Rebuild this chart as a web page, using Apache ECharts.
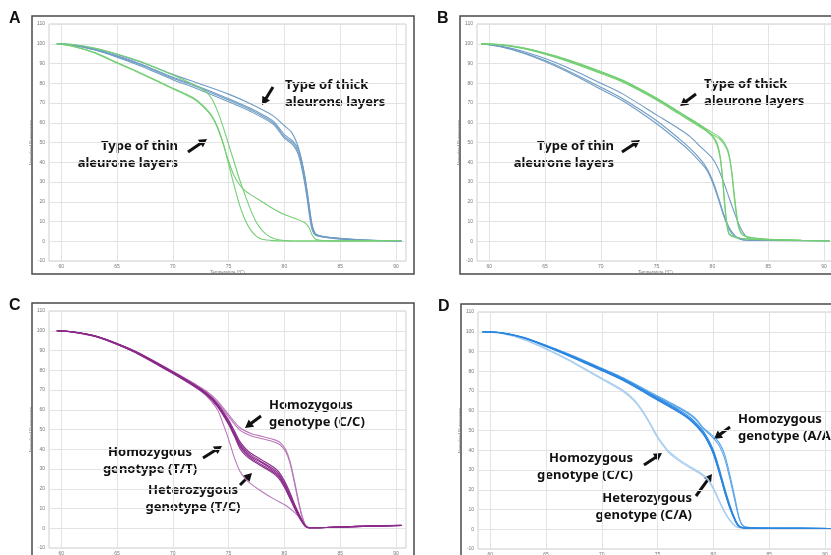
<!DOCTYPE html>
<html><head><meta charset="utf-8">
<script src="https://cdn.jsdelivr.net/npm/echarts@6/dist/echarts.min.js"></script>
<style>html,body{margin:0;padding:0;background:#fff}#c{width:831px;height:555px}</style>
</head><body><div id="c"></div>
<script>
// ---- tick labels ----
const xTicks = [60, 65, 70, 75, 80, 85, 90];
const yTicks = [-10, 0, 10, 20, 30, 40, 50, 60, 70, 80, 90, 100, 110];
const xName = 'Temperature (°C)';
const yName = 'Normalized Fluorescence';
const panelLetters = ['A', 'B', 'C', 'D'];

// ---- Panel A ----
const aBlueUpper = [[59.6,100],[61,99.6],[63,97.6],[65,94.6],[67,91],[70,84.5],[72,80.5],[75,74.5],[77,69.5],[79,63.5],[80,58.5],[80.6,55.5],[81.1,50],[81.5,42],[81.9,30],[82.2,18],[82.5,8],[82.8,3.8],[83.3,2.6],[84,2],[85,1.4],[87,0.6],[90.5,0.3]];
const aBlueLow1 = [[59.6,100],[61,99.4],[63,97],[65,93.6],[67,89.6],[70,82.5],[72,78.5],[75,71.5],[77,66.5],[79,60],[80,53],[80.8,49.5],[81.3,44.5],[81.7,35],[82,25],[82.3,13],[82.5,6.5],[82.8,3.2],[83.5,2.2],[85,1.3],[88,0.4],[90.5,0.2]];
const aBlueLow2 = [[59.6,100],[61,99.3],[63,96.8],[65,93.2],[67,89],[70,81.8],[72,77.6],[75,70.6],[77,65.6],[79,59.2],[80,52.2],[80.8,48.5],[81.3,43],[81.7,33],[82,23],[82.3,11],[82.5,5.5],[82.8,3],[83.5,2],[85,1.1],[88,0.3],[90.5,0.1]];
const aBlueLow3 = [[59.6,100],[61,99.4],[63,97.2],[65,93.9],[67,90],[70,83],[72,79],[75,72.2],[77,67.2],[79,60.8],[80,54],[80.8,50.5],[81.3,46],[81.7,37],[82,27],[82.3,15],[82.5,7.5],[82.8,3.6],[83.5,2.4],[85,1.5],[88,0.5],[90.5,0.3]];
const aGreenUpper = [[59.6,100],[61,99.6],[63,97.8],[65,94.8],[67,91.2],[70,84.2],[72,79],[73,75.5],[73.5,72],[74,66],[74.5,58],[75,49],[75.5,40],[76,31],[76.5,23],[77,15.5],[77.5,9.5],[78,5.5],[78.5,3],[79,1.5],[79.6,0.6],[80.5,0.2],[85,0.1],[90.5,0.4]];
const aGreenLow1 = [[59.6,100],[61,98.8],[63,95.5],[65,90.5],[67,85.5],[70,77.5],[71,75],[72,72],[73,67],[73.5,63.5],[74,58],[74.5,50],[75,39],[75.5,28],[76,18],[76.5,10.5],[77,5.5],[77.5,2.5],[78,1],[79,0.3],[80,0.1],[85,0.1],[90.5,0.4]];
const aGreenLow2 = [[59.6,100],[61,98.7],[63,95.3],[65,90.2],[67,85.2],[70,77.2],[71,74.6],[72,71.6],[73,66.5],[73.5,63],[74,57.5],[74.5,49.5],[75,40.5],[75.5,33],[76,28.5],[76.5,25.5],[77,23.5],[78,20],[79,16.5],[80,13.5],[81,11.5],[81.8,9.5],[82.2,7],[82.5,3],[82.8,1],[83.5,0.4],[85,0.2],[90.5,0.4]];

// ---- Panel B ----
const bGreen1 = [[59.3,100],[61,99.5],[63,97.8],[65,95],[67,91.5],[70,85.5],[72,81],[75,72],[77,65],[78,61.5],[79,58],[80,53],[80.4,49],[80.7,42],[80.9,32],[81.1,18],[81.3,8],[81.5,3.5],[82,2],[83,1.2],[85,0.8],[88,0.4],[90.5,0.3]];
const bGreen2 = [[59.3,100],[61,99.6],[63,98],[65,95.3],[67,92],[70,86],[72,81.5],[75,72.5],[77,65.5],[78,62],[79,58.5],[80,53.5],[80.4,50],[80.7,43],[80.9,33],[81.1,20],[81.3,9],[81.5,4],[82,2.2],[83,1.3],[85,0.8],[88,0.4],[90.5,0.3]];
const bGreen3 = [[59.3,100],[61,99.5],[63,97.9],[65,95.1],[67,91.8],[70,85.7],[72,81.2],[75,72.2],[77,65.5],[78,62],[79,58.5],[80,55],[80.6,53],[81,50.5],[81.4,46],[81.7,37],[82,22],[82.3,9],[82.6,4],[83,2.5],[84,1.5],[85,1],[88,0.5],[90.5,0.3]];
const bGreen4 = [[59.3,100],[61,99.4],[63,97.6],[65,94.7],[67,91.2],[70,85],[72,80.5],[75,71.5],[77,64.5],[78,61],[79,57.5],[80,54],[80.6,52],[81,49.5],[81.4,45],[81.7,36],[82,20],[82.3,8],[82.6,3.8],[83,2.4],[84,1.4],[85,1],[88,0.5],[90.5,0.3]];
const bBlue1 = [[59.3,100],[61,98.8],[63,96.2],[65,92.5],[67,88],[70,80],[72,74.5],[75,64],[77,57],[78,53],[79,47.5],[80,42],[80.5,37],[81,30],[81.5,22],[82,14],[82.5,7],[83,2.5],[83.5,1],[84,0.5],[86,0.4],[90.5,0.3]];
const bBlue2 = [[59.3,100],[61,98.6],[63,95.6],[65,91.5],[67,86.5],[70,78],[72,72],[75,61],[77,52],[78,47],[79,41],[79.5,37],[80,31],[80.5,23],[81,14],[81.5,7],[82,3],[82.5,1.2],[83,0.6],[85,0.4],[90.5,0.3]];
const bBlue3 = [[59.3,100],[61,98.5],[63,95.3],[65,91],[67,85.8],[70,77],[72,71],[75,59.5],[77,50.5],[78,45.5],[79,39.5],[79.5,36],[80,30],[80.5,22],[81,13],[81.5,6],[82,2.5],[82.5,1],[83,0.5],[85,0.4],[90.5,0.3]];

// ---- Panel C ----
const cCC1 = [[59.6,100],[61,99.5],[63,97.4],[65,93.6],[67,88.6],[70,79.5],[72,73],[73,69.5],[74,64.5],[75,57.5],[76,51],[77,48],[78,46.5],[79,45],[79.6,43.5],[80.1,40],[80.5,34],[80.9,24],[81.3,13],[81.6,6],[81.9,1.5],[82.2,0.3],[83,0.3],[86,0.8],[90.5,1.5]];
const cCC2 = [[59.6,100],[61,99.4],[63,97.2],[65,93.3],[67,88.2],[70,79],[72,72.4],[73,68.8],[74,63.6],[75,56.5],[76,49.8],[77,46.8],[78,45.3],[79,43.8],[79.6,42.3],[80.1,39],[80.5,33],[80.9,23],[81.3,12],[81.6,5.5],[81.9,1.3],[82.2,0.3],[83,0.3],[86,0.8],[90.5,1.4]];
const cTC1 = [[59.6,100],[61,99.5],[63,97.4],[65,93.4],[67,88.4],[70,79],[72,72.2],[73,68.2],[74,62.5],[75,54],[75.5,48.5],[76,43],[76.5,39.5],[77,37],[78,33.5],[79,30],[79.5,27.5],[80,23],[80.5,17],[81,10.5],[81.5,4.5],[81.9,1],[82.2,0.3],[83,0.3],[86,0.8],[90.5,1.5]];
const cTC2 = [[59.6,100],[61,99.4],[63,97.3],[65,93.2],[67,88.1],[70,78.6],[72,71.8],[73,67.8],[74,62],[75,53.2],[75.5,47.5],[76,41.5],[76.5,38],[77,35.5],[78,32],[79,28.5],[79.5,26],[80,21.5],[80.5,15.5],[81,9.5],[81.5,4],[81.9,0.9],[82.2,0.3],[83,0.3],[86,0.8],[90.5,1.4]];
const cTC3 = [[59.6,100],[61,99.5],[63,97.5],[65,93.5],[67,88.6],[70,79.2],[72,72.5],[73,68.6],[74,63],[75,54.8],[75.5,49.5],[76,44],[76.5,40.5],[77,38],[78,34.5],[79,31],[79.5,28.5],[80,24],[80.5,18],[81,11],[81.5,5],[81.9,1.1],[82.2,0.3],[83,0.3],[86,0.9],[90.5,1.5]];
const cTC4 = [[59.6,100],[61,99.4],[63,97.3],[65,93.3],[67,88.3],[70,78.8],[72,72],[73,68],[74,62.2],[75,53.6],[75.5,48],[76,42.2],[76.5,38.7],[77,36.2],[78,33],[79,29.2],[79.5,26.8],[80,22.2],[80.5,16.2],[81,10],[81.5,4.2],[81.9,1],[82.2,0.3],[83,0.3],[86,0.8],[90.5,1.4]];
const cTC5 = [[59.6,100],[61,99.3],[63,97.1],[65,93],[67,87.9],[70,78.3],[72,71.5],[73,67.5],[74,61.6],[75,52.6],[75.5,46.8],[76,40.5],[76.5,37],[77,34.8],[78,31.3],[79,27.8],[79.5,25.2],[80,20.8],[80.5,15],[81,9],[81.5,3.8],[81.9,0.8],[82.2,0.3],[83,0.3],[86,0.8],[90.5,1.4]];
const cTT = [[59.6,100],[61,99.5],[63,97.3],[65,93.2],[67,88],[70,78.5],[72,71.5],[73,67],[74,60],[74.5,53],[75,45],[75.5,36],[76,29],[76.5,25],[77,22.5],[78,18.5],[79,15],[80,12],[80.5,10],[81,7.5],[81.5,4.5],[81.9,1.5],[82.2,0.3],[83,0.3],[86,0.8],[90.5,1.4]];

// ---- Panel D ----
const dAA1 = [[59.3,100],[61,99.6],[63,97.2],[65,93.2],[67,88.8],[70,81.5],[72,76.5],[75,67.5],[77,61.5],[78,58],[78.5,55.5],[79,52],[80,47],[80.5,44],[81,38],[81.5,27],[82,14],[82.3,6],[82.6,2.2],[83,1],[85,0.6],[90.5,0.4]];
const dAA2 = [[59.3,100],[61,99.5],[63,97],[65,93],[67,88.5],[70,81.2],[72,76],[75,67],[77,61],[78,57.5],[78.5,55],[79,51.5],[80,46],[80.5,42.5],[81,36],[81.5,25],[82,12.5],[82.3,5.5],[82.6,2],[83,1],[85,0.6],[90.5,0.4]];
const dCA1 = [[59.3,100],[61,99.5],[63,97],[65,92.8],[67,88.2],[70,80.8],[72,75.5],[75,66],[77,59.5],[78,55.5],[79,49.5],[79.5,45],[80,39],[80.5,30],[81,20],[81.5,11],[82,4],[82.3,1.5],[82.6,0.8],[83,0.6],[85,0.5],[90.5,0.4]];
const dCA2 = [[59.3,100],[61,99.4],[63,96.8],[65,92.5],[67,87.8],[70,80.3],[72,75],[75,65.3],[77,58.8],[78,54.8],[79,48.8],[79.5,44.2],[80,38],[80.5,29],[81,19],[81.5,10.2],[82,3.6],[82.3,1.3],[82.6,0.8],[83,0.6],[85,0.5],[90.5,0.4]];
const dCA3 = [[59.3,100],[61,99.5],[63,97.1],[65,93],[67,88.5],[70,81.2],[72,76],[75,66.6],[77,60.2],[78,56.3],[79,50.3],[79.5,46],[80,40],[80.5,31.2],[81,21],[81.5,11.8],[82,4.4],[82.3,1.7],[82.6,0.9],[83,0.6],[85,0.5],[90.5,0.4]];
const dCA4 = [[59.3,100],[61,99.4],[63,96.9],[65,92.7],[67,88],[70,80.6],[72,75.3],[75,65.7],[77,59.2],[78,55.2],[79,49.2],[79.5,44.6],[80,38.5],[80.5,29.6],[81,19.5],[81.5,10.6],[82,3.8],[82.3,1.4],[82.6,0.8],[83,0.6],[85,0.5],[90.5,0.4]];
const dCC1 = [[59.3,100],[61,99.2],[63,96.2],[65,91.5],[67,86],[70,76.5],[72,70],[73,65],[74,57],[75,47],[75.5,43],[76,39.5],[77,35],[78,31.5],[79,28],[79.5,25.5],[80,21],[80.5,15],[81,9],[81.5,4.5],[82,1.5],[82.5,0.6],[83,0.5],[85,0.5],[90.5,0.4]];
const dCC2 = [[59.3,100],[61,99.1],[63,96],[65,91.2],[67,85.6],[70,76],[72,69.4],[73,64.3],[74,56.2],[75,46.2],[75.5,42.2],[76,38.7],[77,34.3],[78,30.8],[79,27.3],[79.5,24.8],[80,20.3],[80.5,14.3],[81,8.5],[81.5,4.2],[82,1.4],[82.5,0.6],[83,0.5],[85,0.5],[90.5,0.4]];

// ---- styling / layout ----
const C = {
  aBlue: '#6f9cc4', aGreen: '#74cf74',
  cPurple: '#8a2a8a', cPurpleLight: '#b878b8',
  dBlue: '#2a86e0', dBlueMid: '#5aa6ea', dBlueLight: '#a8cdef'
};
const panels = [
  {dx: 0, dy: 0},
  {dx: 428, dy: 0},
  {dx: 0, dy: 287},
  {dx: 429, dy: 288}
];
const seriesDefs = [
  [ [aBlueUpper, C.aBlue], [aBlueLow1, C.aBlue], [aBlueLow2, C.aBlue], [aBlueLow3, C.aBlue],
    [aGreenUpper, C.aGreen], [aGreenLow1, C.aGreen], [aGreenLow2, C.aGreen] ],
  [ [bBlue1, C.aBlue], [bBlue2, C.aBlue], [bBlue3, C.aBlue],
    [bGreen1, C.aGreen], [bGreen2, C.aGreen], [bGreen3, C.aGreen], [bGreen4, C.aGreen] ],
  [ [cCC1, C.cPurpleLight], [cCC2, C.cPurpleLight], [cTT, C.cPurpleLight],
    [cTC1, C.cPurple], [cTC2, C.cPurple], [cTC3, C.cPurple], [cTC4, C.cPurple], [cTC5, C.cPurple] ],
  [ [dCC1, C.dBlueLight], [dCC2, C.dBlueLight], [dAA1, C.dBlueMid], [dAA2, C.dBlueMid],
    [dCA1, C.dBlue], [dCA2, C.dBlue], [dCA3, C.dBlue], [dCA4, C.dBlue] ]
];

const grids = [], xAxes = [], yAxes = [], series = [], graphics = [];
panels.forEach((p, i) => {
  grids.push({left: 49 + p.dx, top: 24 + p.dy, width: 357, height: 237, show: true,
    borderColor: '#cfcfcf', borderWidth: 1, backgroundColor: '#fff', outerBoundsMode: 'none', containLabel: false});
  xAxes.push({type: 'value', gridIndex: i, min: 58.9, max: 90.9,
    axisLine: {show: false}, axisTick: {show: false, customValues: xTicks},
    axisLabel: {customValues: xTicks, fontSize: 5, color: '#777', margin: 3},
    splitLine: {show: true, lineStyle: {color: '#e3e3e3', width: 1}},
    name: xName, nameLocation: 'middle', nameGap: 9, nameTextStyle: {fontSize: 4.5, color: '#777'}});
  yAxes.push({type: 'value', gridIndex: i, min: -10, max: 110, interval: 10,
    axisLine: {show: false}, axisTick: {show: false},
    axisLabel: {fontSize: 5, color: '#777', margin: 4},
    splitLine: {show: true, lineStyle: {color: '#e3e3e3', width: 1}},
    name: yName, nameLocation: 'middle', nameGap: 11, nameTextStyle: {fontSize: 4, color: '#777'}});
  seriesDefs[i].forEach(([d, col]) => {
    series.push({type: 'line', xAxisIndex: i, yAxisIndex: i, data: d, showSymbol: false, symbol: 'none',
      smooth: 0.25, lineStyle: {color: col, width: 1.1}, silent: true});
  });
  graphics.push({type: 'rect', z: -10, shape: {x: 32 + p.dx, y: 16 + p.dy, width: 382, height: 258},
    style: {fill: 'none', stroke: '#4a4a4a', lineWidth: 1.5}});
  graphics.push({type: 'text', x: 9 + p.dx, y: 11 + p.dy, style: {text: panelLetters[i],
    font: 'bold 16px "Liberation Sans", Arial, sans-serif', fill: '#111'}});
});

function arrow(x1, y1, x2, y2) {
  const dx = x2 - x1, dy = y2 - y1, L = Math.hypot(dx, dy);
  const ux = dx / L, uy = dy / L, hl = 8, hw = 4.5;
  const bx = x2 - ux * hl, by = y2 - uy * hl;
  graphics.push({type: 'line', shape: {x1: x1, y1: y1, x2: bx + ux, y2: by + uy}, style: {stroke: '#111', lineWidth: 3}});
  graphics.push({type: 'polygon', shape: {points: [[x2, y2], [bx - uy * hw, by + ux * hw], [bx + uy * hw, by - ux * hw]]}, style: {fill: '#111'}});
}
function label(lines, x, y, align) {
  lines.forEach((t, k) => graphics.push({type: 'text', x: x, y: y + k * 17, style: {text: t,
    font: 'bold 13px "Noto Sans", "Open Sans", sans-serif', fill: '#111', stroke: 'none', lineWidth: 0, align: align, verticalAlign: 'middle'}}));
}
// Panel A annotations
label(['Type of thick', 'aleurone layers'], 285, 85, 'left');
arrow(273, 87, 262, 105);
label(['Type of thin', 'aleurone layers'], 178, 146, 'right');
arrow(188, 152, 207, 139);
// Panel B annotations
label(['Type of thick', 'aleurone layers'], 704, 84, 'left');
arrow(696, 94, 680, 106);
label(['Type of thin', 'aleurone layers'], 614, 146, 'right');
arrow(622, 152, 640, 140);
// Panel C annotations
label(['Homozygous', 'genotype (C/C)'], 269, 405, 'left');
arrow(261, 416, 245, 428);
label(['Homozygous', 'genotype (T/T)'], 150, 452, 'center');
arrow(203, 458, 222, 446);
label(['Heterozygous', 'genotype (T/C)'], 193, 490, 'center');
arrow(240, 485, 252, 473);
// Panel D annotations
label(['Homozygous', 'genotype (A/A)'], 738, 419, 'left');
arrow(730, 427, 714, 439);
label(['Homozygous', 'genotype (C/C)'], 633, 458, 'right');
arrow(644, 465, 662, 453);
label(['Heterozygous', 'genotype (C/A)'], 692, 498, 'right');
arrow(696, 496, 712, 474);

const chart = echarts.init(document.getElementById('c'), null, {renderer: 'canvas'});
chart.setOption({animation: false, grid: grids, xAxis: xAxes, yAxis: yAxes, series: series, graphic: graphics});
</script></body></html>
